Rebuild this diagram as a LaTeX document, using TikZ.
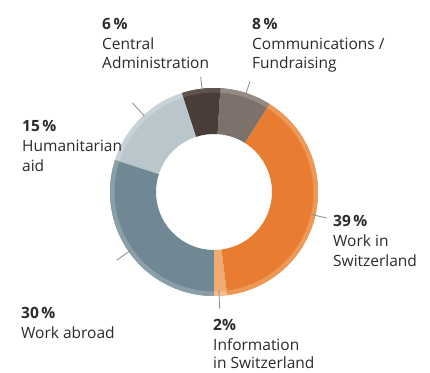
\documentclass[tikz,border=0pt]{standalone}
\usepackage{fontspec}
\setmainfont{Open Sans}
\definecolor{taupe}{HTML}{7D716B}
\definecolor{taupeR}{HTML}{958A84}
\definecolor{brownD}{HTML}{4A3D37}
\definecolor{brownR}{HTML}{5F534D}
\definecolor{greyL}{HTML}{B9C7CC}
\definecolor{greyLR}{HTML}{C8D3D7}
\definecolor{blueG}{HTML}{6F8894}
\definecolor{blueGR}{HTML}{8B9FA8}
\definecolor{orangeM}{HTML}{E87D31}
\definecolor{orangeR}{HTML}{EE9856}
\definecolor{orangeL}{HTML}{F0AA73}
\definecolor{orangeLR}{HTML}{F4BC8E}
\definecolor{txt}{HTML}{2B2B2B}
\definecolor{tick}{HTML}{8A8A8A}
\newcommand{\ringseg}[4]{% start, end, main colour, rim colour
  \fill[#3] (#1:58) arc[start angle=#1, end angle=#2, radius=58] -- (#2:104) arc[start angle=#2, end angle=#1, radius=104] -- cycle;
  \fill[#4] (#1:99.5) arc[start angle=#1, end angle=#2, radius=99.5] -- (#2:104) arc[start angle=#2, end angle=#1, radius=104] -- cycle;
}
\tikzset{
  pct/.style={anchor=base west, inner sep=0pt, font=\fontsize{15.5}{18}\selectfont\bfseries, text=txt},
  lbl/.style={anchor=base west, inner sep=0pt, font=\fontsize{15.5}{18}\selectfont, text=txt},
  tickline/.style={draw=tick, line width=0.8pt}
}
\begin{document}
\begin{tikzpicture}[x=1pt,y=1pt]
\useasboundingbox (0,0) rectangle (430,372);
\fill[white] (0,0) rectangle (430,372);
\begin{scope}[shift={(214,180)}]
  \ringseg{57.7}{86.5}{taupe}{taupeR}
  \ringseg{86.5}{108.1}{brownD}{brownR}
  \ringseg{108.1}{162.1}{greyL}{greyLR}
  \ringseg{162.1}{270.1}{blueG}{blueGR}
  \ringseg{270.1}{277.3}{orangeL}{orangeLR}
  \ringseg{277.3}{417.7}{orangeM}{orangeR}
  \coordinate (c1a) at (72:103); \coordinate (c1b) at (72:116);
  \coordinate (c2a) at (96.6:103); \coordinate (c2b) at (96.6:116);
  \coordinate (c3a) at (132.5:103); \coordinate (c3b) at (132.5:121);
  \coordinate (c4a) at (215:100); \coordinate (c4b) at (215:119);
  \coordinate (c5a) at (272.8:99); \coordinate (c5b) at (272.8:117);
  \coordinate (c6a) at (347:100); \coordinate (c6b) at (347:116);
\end{scope}
\draw[tickline] (c1a) -- (c1b);
\draw[tickline] (c2a) -- (c2b);
\draw[tickline] (c3a) -- (c3b);
\draw[tickline] (c4a) -- (c4b);
\draw[tickline] (c5a) -- (c5b);
\draw[tickline] (c6a) -- (c6b);
% Central Administration
\node[pct] (p6) at (102,342.5) {6\,\%};
\node[lbl] (l6a) at (102,322.5) {Central};
\node[lbl] (l6b) at (102,303) {Administration};
% Communications
\node[pct] (p8) at (252,342.5) {8\,\%};
\node[lbl] (l8a) at (252,322.5) {Communications /};
\node[lbl] (l8b) at (252,303) {Fundraising};
% Humanitarian
\node[pct] (p15) at (22,240) {15\,\%};
\node[lbl] (l15a) at (22,220.5) {Humanitarian};
\node[lbl] (l15b) at (22,200.5) {aid};
% Work in Switzerland
\node[pct] (p39) at (333,146) {39\,\%};
\node[lbl] (l39a) at (333,125) {Work in};
\node[lbl] (l39b) at (333,106) {Switzerland};
% Work abroad
\node[pct] (p30) at (21,54) {30\,\%};
\node[lbl] (l30a) at (21,34) {Work abroad};
% Information
\node[pct] (p2) at (213,42) {2\%};
\node[lbl] (l2a) at (213,21.5) {Information};
\node[lbl] (l2b) at (213,3.5) {in Switzerland};
\end{tikzpicture}
\end{document}
